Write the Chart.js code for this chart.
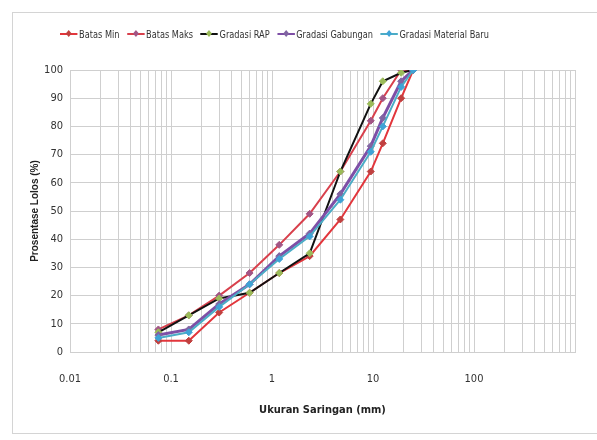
<!DOCTYPE html>
<html>
<head>
<meta charset="utf-8">
<script src="https://cdn.jsdelivr.net/npm/chart.js@4.4.1/dist/chart.umd.min.js"></script>
<style>
  html, body { margin: 0; padding: 0; background: #fff; overflow: hidden; }
  body { width: 597px; height: 440px; position: relative; }
  #frame {
    position: absolute; left: 12px; top: 12px; width: 600px; height: 422px;
    border: 1px solid #d4d4d4; box-sizing: border-box;
  }
  #wrap { position: absolute; left: 13px; top: 13px; width: 588px; height: 420px; }
  #legend {
    position: absolute; left: 60px; top: 27px; display: flex; gap: 9px;
    font-family: "Liberation Sans Narrow", "DejaVu Sans Condensed", Arial, sans-serif;
    font-size: 11px; color: #333; white-space: nowrap;
    transform: scaleX(0.83); transform-origin: left center;
  }
  .item { display: flex; align-items: center; }
  .key { position: relative; width: 21px; height: 14px; margin-right: 2px; }
  .key .ln { position: absolute; left: 0; right: 0; top: 6px; height: 2px; }
  .key .mk { position: absolute; left: 8px; top: 4px; width: 5px; height: 5px; transform: rotate(45deg); }
</style>
</head>
<body>
<div id="frame"></div>
<div id="wrap"><canvas id="chart"></canvas></div>
<div id="legend"></div>
<script>
// sieve sizes (mm)
const sieveSizes = [0.075, 0.15, 0.3, 0.6, 1.18, 2.36, 4.75, 9.5, 12.5, 19, 25];

// percent passing
const batasMin = [4, 4, 14, 21, 28, 34, 47, 64, 74, 90, 100];
const batasMaks = [8, 13, 20, 28, 38, 49, 64, 82, 90, 100, 100];
const gradasiRAP = [7, 13, 19, 21, 28, 35, 64, 88, 96, 99, 100];
const gradasiGabungan = [6, 8, 17, 24, 34, 42, 56, 73, 83, 96, 100];
const gradasiMaterialBaru = [5, 7, 16, 24, 33, 41, 54, 71, 80, 94, 100];

const xDecades = [0.01, 0.1, 1, 10, 100];
const xLabelValues = [0.01, 0.1, 1, 10, 100];
const xMin = 0.01;
const xMax = 1000;

const FONT = '"Liberation Sans Narrow", "DejaVu Sans Condensed", Arial, sans-serif';
const GRID = '#cfcfcf';

const SERIES = [
    { label: 'Batas Min', data: batasMin, line: '#e2363c', point: '#c0403f', width: 2, order: 5 },
    { label: 'Batas Maks', data: batasMaks, line: '#d8404c', point: '#a25585', width: 2, order: 4 },
    { label: 'Gradasi RAP', data: gradasiRAP, line: '#111111', point: '#9bbb59', width: 2, order: 3 },
    { label: 'Gradasi Gabungan', data: gradasiGabungan, line: '#7e4fa6', point: '#8064a2', width: 3, order: 2 },
    { label: 'Gradasi Material Baru', data: gradasiMaterialBaru, line: '#4bacc6', point: '#3fa3d6', width: 2, order: 1 }
];

// grid positions: 1..9 in every decade, plus the end
const gridValues = [];
xDecades.forEach(d => {
    for (let m = 1; m <= 9; m++) gridValues.push(+(d * m).toPrecision(6));
});
gridValues.push(xMax);

const isLabel = v => xLabelValues.some(l => Math.abs(Math.log10(v) - Math.log10(l)) < 1e-9);

// HTML legend
const legendEl = document.getElementById('legend');
SERIES.forEach(s => {
    const item = document.createElement('div');
    item.className = 'item';
    item.innerHTML = '<span class="key"><span class="ln" style="background:' + s.line +
        '"></span><span class="mk" style="background:' + s.point + '"></span></span><span>' + s.label + '</span>';
    legendEl.appendChild(item);
});

new Chart(document.getElementById('chart'), {
    type: 'line',
    data: {
        datasets: SERIES.map(s => ({
            label: s.label,
            data: sieveSizes.map((x, i) => ({ x: x, y: s.data[i] })),
            borderColor: s.line,
            borderWidth: s.width,
            backgroundColor: s.point,
            pointBackgroundColor: s.point,
            pointBorderColor: s.point,
            pointStyle: 'rectRot',
            pointRadius: 3.5,
            pointBorderWidth: 1,
            tension: 0,
            fill: false,
            order: s.order
        }))
    },
    options: {
        responsive: true,
        maintainAspectRatio: false,
        animation: false,
        layout: { padding: { top: 57, right: 26, bottom: 0, left: 0 } },
        plugins: {
            legend: { display: false },
            tooltip: { enabled: false }
        },
        scales: {
            x: {
                type: 'logarithmic',
                min: xMin,
                max: xMax,
                afterBuildTicks: scale => {
                    scale.ticks = gridValues.map(v => ({ value: v }));
                },
                afterFit: scale => { scale.height = 81; },
                grid: { color: GRID, drawTicks: false },
                border: { color: GRID },
                ticks: {
                    autoSkip: false,
                    maxRotation: 0,
                    padding: 21,
                    color: '#333',
                    font: { family: FONT, size: 11 },
                    callback: v => isLabel(v) ? String(v) : ''
                },
                title: {
                    display: true,
                    text: 'Ukuran Saringan (mm)',
                    color: '#222',
                    font: { family: FONT, size: 11, weight: 'bold' },
                    padding: { top: 0, bottom: 16 }
                }
            },
            y: {
                min: 0,
                max: 100,
                afterFit: scale => { scale.width = 57; },
                grid: { color: GRID, drawTicks: false },
                border: { color: GRID },
                ticks: {
                    stepSize: 10,
                    padding: 7,
                    color: '#333',
                    font: { family: FONT, size: 11 }
                },
                title: {
                    display: true,
                    text: 'Prosentase Lolos (%)',
                    color: '#222',
                    font: { family: 'Arial, "Liberation Sans", sans-serif', size: 10, weight: 'bold' },
                    padding: { top: 16, bottom: 0 }
                }
            }
        }
    }
});
</script>
</body>
</html>
